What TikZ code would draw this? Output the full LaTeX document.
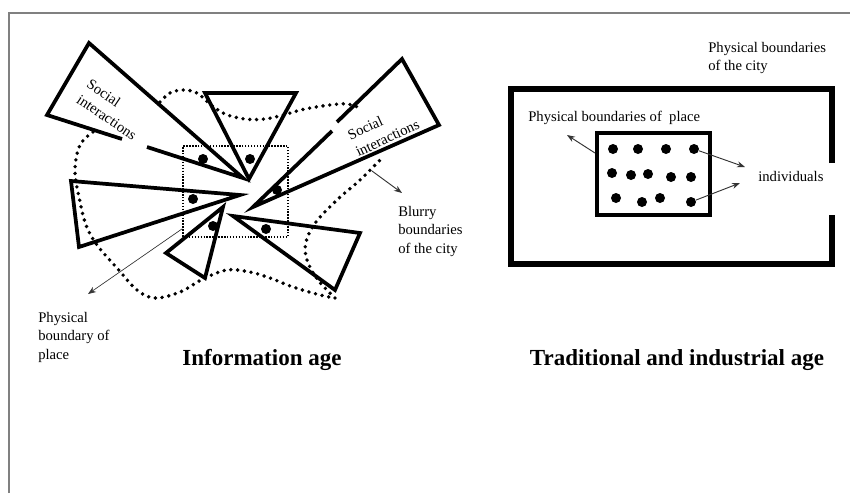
\documentclass[tikz,border=0pt]{standalone}
\usepackage{fontspec}
\setmainfont{Liberation Serif}
\usetikzlibrary{arrows.meta}
\begin{document}
\begin{tikzpicture}[x=0.75pt,y=-0.75pt,
    tri/.style={line width=2.8pt, line join=miter},
    blob/.style={line width=2.9pt, line cap=round, dash pattern=on 0pt off 5.1pt},
    lbl/.style={font=\fontsize{11}{13.8}\selectfont, align=left, inner sep=0pt},
    ttl/.style={font=\fontsize{17.25}{20}\selectfont\bfseries, inner sep=0pt},
    arr/.style={-{Stealth[length=6pt,width=4.5pt]}, line width=0.7pt, black!80},
    dot/.style={circle, fill=black, inner sep=0pt, minimum size=7.5pt},
]
\useasboundingbox (0,0) rectangle (850,493);
% frame
\draw[black!50, line width=1.4pt] (9,493) -- (9,13) -- (850,13);

% Information age
% blurry boundaries of the city
\draw[blob] plot[smooth, tension=0.6] coordinates {(160,102) (170,93) (183,90) (197,93) (210,104)
    (225,114) (245,119) (265,119) (283,115) (305,109) (330,105) (348,104) (362,109)};
\draw[blob] plot[smooth, tension=0.6] coordinates {(93,132) (80,145) (75,170) (79,197) (86,225)
    (97,245) (117,268) (137,290) (155,298) (180,292) (203,279) (227,270) (250,272) (270,278)
    (293,287) (320,295) (335,298)};
\draw[blob] plot[smooth, tension=0.6] coordinates {(335,298) (318,280) (307,260) (306,242)
    (316,222) (338,199) (360,180) (382,158)};
% physical boundary of place
\node[draw, line width=1.1pt, dash pattern=on 1.1pt off 1.1pt, minimum width=78.75pt,
    minimum height=68.25pt] (place1) at (235.5,191.5) {};

% triangles
\draw[tri] (122,139) -- (47,115) -- (89,43) -- (243,178) -- (147,147);
\draw[tri] (205,93) -- (296,93) -- (249,179) -- cycle;
\draw[tri] (332,131) -- (253,207) -- (439,125) -- (402,59) -- (337,122);
\draw[tri] (71,181) -- (240,195) -- (79,247) -- cycle;
\draw[tri] (223,207) -- (166,253) -- (205,278) -- cycle;
\draw[tri] (233,216) -- (360,233) -- (335,290) -- cycle;
\foreach \x/\y in {203/159, 250/159, 277/190, 193/199, 213/226, 266/229}
    \fill (\x,\y) circle[radius=3.75pt];

\node[lbl, rotate=-34] (soc1) at (112,109.5) {Social\\interactions};
\node[lbl, rotate=25] (soc2) at (383.5,129.5) {Social\\interactions};

\node[lbl, anchor=north west] (blurry) at (398,206) {Blurry\\boundaries\\of the city};
\coordinate (blurrytip) at (402,193);
\draw[arr] (372,171) -- (blurrytip);

\node[lbl, anchor=north west] (pbl) at (38,312) {Physical\\boundary of\\place};
\coordinate (pbtip) at (88,294);
\draw[arr, line width=0.5pt] ([yshift=6.75pt]place1.south west) -- (pbtip);

\node[ttl, anchor=base] (infoage) at (262,365) {Information age};

% Traditional and industrial age
\draw[line width=4.8pt] (832,163) -- (832,89) -- (511,89) -- (511,264) -- (832,264) -- (832,215);
\node[lbl, anchor=north west] (citylbl) at (708,42) {Physical boundaries\\of the city};
\node[draw, line width=3pt, minimum width=84.75pt, minimum height=61.5pt] (place2) at (653.5,174) {};
\foreach \i/\x/\y in {1/613/149, 2/638/149, 3/666/149, 4/694/149,
    5/612/173, 6/631/175, 7/648/174, 8/671/177, 9/691/177,
    10/616/198, 11/642/202, 12/660/198, 13/691/202}
    \node[dot] (d\i) at (\x,\y) {};
\node[lbl, anchor=base west] (placelbl) at (528,121) {Physical boundaries of \ place};
\coordinate (placetip) at (567,135);
\draw[arr] ([yshift=15.75pt]place2.west) -- (placetip);
\node[lbl, anchor=base west] (ind) at (758,181) {individuals};
\coordinate (indtop) at (745,167);
\coordinate (indbot) at (740,183);
\draw[arr] (d4) -- (indtop);
\draw[arr] (d13) -- (indbot);

\node[ttl, anchor=base] (tradage) at (677,365) {Traditional and industrial age};
\end{tikzpicture}
\end{document}
